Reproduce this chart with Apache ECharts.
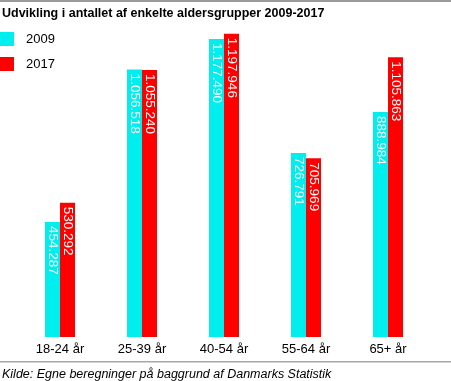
<!DOCTYPE html>
<html><head><meta charset="utf-8">
<script src="https://cdn.jsdelivr.net/npm/echarts@6/dist/echarts.min.js"></script>
<style>html,body{margin:0;padding:0;background:#fff}#c{width:451px;height:381px}</style>
</head><body><div id="c"></div>
<script>
var categories = ['18-24 år','25-39 år','40-54 år','55-64 år','65+ år'];
var values2009 = [454287, 1056518, 1177490, 726791, 888984];
var values2017 = [530292, 1055240, 1197946, 705969, 1105863];
var seriesNames = ['2009','2017'];
var titleText = 'Udvikling i antallet af enkelte aldersgrupper 2009-2017';
var sourceText = 'Kilde: Egne beregninger på baggrund af Danmarks Statistik';

function fmt(v){ return String(v).replace(/\B(?=(\d{3})+(?!\d))/g,'.'); }
var FONT = '"Liberation Sans", Arial, sans-serif';
var labelCfg = {
  show:true, position:'insideTop', rotate:-90, align:'left', verticalAlign:'middle',
  distance:4, color:'#fff', fontFamily:FONT, fontSize:13.5,
  formatter:function(p){return fmt(p.value);}
};
var chart = echarts.init(document.getElementById('c'), null, {renderer:'canvas'});
chart.setOption({
  animation:false,
  graphic:[
    {type:'rect', shape:{x:0,y:0,width:451,height:2}, style:{fill:'#9a9a9a'}},
    {type:'rect', shape:{x:0,y:361,width:451,height:1.5}, style:{fill:'#a8a8a8'}},
    {type:'text', left:2, top:7, style:{text:titleText, font:'bold 12.5px '+FONT, fill:'#000'}},
    {type:'text', left:2, top:368, style:{text:sourceText, font:'italic 12.5px '+FONT, fill:'#000'}}
  ],
  legend:{
    orient:'vertical', left:0, top:32, padding:0, itemWidth:14, itemHeight:14, itemGap:11,
    icon:'rect', data:seriesNames,
    textStyle:{fontFamily:FONT, fontSize:13, color:'#000', padding:[0,0,0,7]}
  },
  grid:{left:19, right:22, top:8, bottom:44},
  xAxis:{
    type:'category', data:categories,
    axisLine:{show:false}, axisTick:{show:false},
    axisLabel:{fontFamily:FONT, fontSize:13, color:'#000', margin:6}
  },
  yAxis:{type:'value', min:0, max:1300000, show:false, splitLine:{show:false}},
  series:[
    {name:seriesNames[0], type:'bar', data:values2009, barWidth:15, barGap:'0%',
     itemStyle:{color:'#00eeee'}, label:labelCfg},
    {name:seriesNames[1], type:'bar', data:values2017, barWidth:15, barGap:'0%',
     itemStyle:{color:'#ff0000'}, label:labelCfg}
  ]
});
</script></body></html>
